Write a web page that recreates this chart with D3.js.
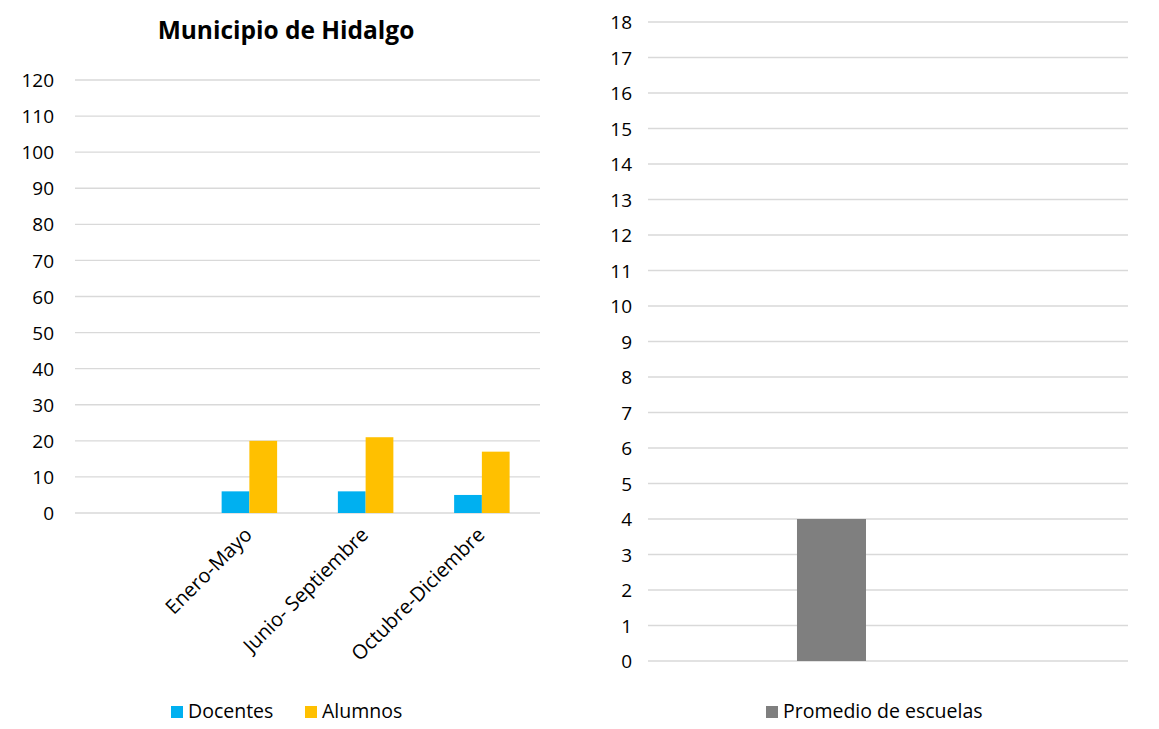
<!DOCTYPE html>
<html>
<head>
<meta charset="utf-8">
<title>Municipio de Hidalgo</title>
<script src="https://d3js.org/d3.v7.min.js"></script>
<style>
  body { margin: 0; background: #fff; }
  text { font-family: "Open Sans", "Noto Sans", sans-serif; fill: #000; }
  .grid line { stroke: #d9d9d9; stroke-width: 1.3; }
</style>
</head>
<body>
<script>
// datos - grafica izquierda (primera fila vacia en el original)
var periodos = ["", "Enero-Mayo", "Junio- Septiembre", "Octubre-Diciembre"];
var docentes = [null, 6, 6, 5];
var alumnos  = [null, 20, 21, 17];
var seriesIzq = ["Docentes", "Alumnos"];
var coloresIzq = ["#00b0f0", "#ffc000"];
var ticksIzq = d3.range(0, 121, 10);

// datos - grafica derecha
var categoriasDer = ["Promedio de escuelas"];
var promedio = [4];
var ticksDer = d3.range(0, 19, 1);

var svg = d3.select("body").append("svg")
    .attr("width", 1159)
    .attr("height", 729);

// ---------- grafica izquierda ----------
var left = {x0: 75, x1: 540, y0: 513, y1: 80};

var x = d3.scaleBand().domain(periodos).range([left.x0, left.x1]);
var x1 = d3.scaleBand().domain(seriesIzq)
    .range([0, x.bandwidth()])
    .paddingInner(0).paddingOuter(2.19 / 2);
var y = d3.scaleLinear().domain([0, 120]).range([left.y0, left.y1]);

svg.append("text")
    .attr("x", 286).attr("y", 39)
    .attr("text-anchor", "middle")
    .style("font-size", "24.5px").style("font-weight", "bold")
    .text("Municipio de Hidalgo");

svg.append("g").attr("class", "grid")
    .selectAll("line").data(ticksIzq).enter().append("line")
    .attr("x1", left.x0).attr("x2", left.x1)
    .attr("y1", function(d) { return y(d); })
    .attr("y2", function(d) { return y(d); });

var ejeY = svg.append("g")
    .attr("transform", "translate(" + (left.x0 - 21) + ",0)")
    .call(d3.axisLeft(y).tickValues(ticksIzq).tickSize(0).tickPadding(0));
ejeY.select(".domain").remove();
ejeY.selectAll("text").style("font-size", "19px").attr("dy", "0.35em");

var filas = periodos.map(function(p, i) {
    return {periodo: p, valores: [docentes[i], alumnos[i]]};
});

var grupos = svg.append("g").selectAll("g").data(filas).enter().append("g")
    .attr("transform", function(d) { return "translate(" + x(d.periodo) + ",0)"; });

grupos.selectAll("rect")
    .data(function(d) {
        return d.valores.map(function(v, j) { return {serie: seriesIzq[j], v: v, c: coloresIzq[j]}; })
            .filter(function(e) { return e.v != null; });
    })
    .enter().append("rect")
    .attr("x", function(d) { return x1(d.serie); })
    .attr("width", x1.bandwidth())
    .attr("y", function(d) { return y(d.v); })
    .attr("height", function(d) { return y(0) - y(d.v); })
    .attr("fill", function(d) { return d.c; });

var ejeX = svg.append("g")
    .attr("transform", "translate(0," + left.y0 + ")")
    .call(d3.axisBottom(x).tickSize(0).tickPadding(0));
ejeX.select(".domain").remove();
ejeX.selectAll("text")
    .style("font-size", "20px")
    .attr("text-anchor", "end")
    .attr("dy", "0.35em")
    .attr("transform", "translate(-1,18) rotate(-45)");

// leyenda izquierda
var legX = [171, 305];
var legIzq = svg.append("g").selectAll("g").data(seriesIzq).enter().append("g")
    .attr("transform", function(d, i) { return "translate(" + legX[i] + ",706)"; });
legIzq.append("rect").attr("width", 12).attr("height", 12)
    .attr("fill", function(d, i) { return coloresIzq[i]; });
legIzq.append("text").attr("x", 17).attr("y", 5).attr("dy", "0.35em")
    .style("font-size", "19.5px").text(function(d) { return d; });

// ---------- grafica derecha ----------
var right = {x0: 648, x1: 1128, y0: 661, y1: 22};

var xd = d3.scaleBand().domain(categoriasDer)
    .range([right.x0, right.x1])
    .paddingInner(0).paddingOuter(2.978).align(0.3625);
var yd = d3.scaleLinear().domain([0, 18]).range([right.y0, right.y1]);

svg.append("g").attr("class", "grid")
    .selectAll("line").data(ticksDer).enter().append("line")
    .attr("x1", right.x0).attr("x2", right.x1)
    .attr("y1", function(d) { return yd(d); })
    .attr("y2", function(d) { return yd(d); });

var ejeYd = svg.append("g")
    .attr("transform", "translate(" + (right.x0 - 16) + ",0)")
    .call(d3.axisLeft(yd).tickValues(ticksDer).tickSize(0).tickPadding(0));
ejeYd.select(".domain").remove();
ejeYd.selectAll("text").style("font-size", "19px").attr("dy", "0.35em");

svg.append("g").selectAll("rect").data(categoriasDer).enter().append("rect")
    .attr("x", function(d) { return xd(d); })
    .attr("width", xd.bandwidth())
    .attr("y", function(d, i) { return yd(promedio[i]); })
    .attr("height", function(d, i) { return yd(0) - yd(promedio[i]); })
    .attr("fill", "#7f7f7f");

var legDer = svg.append("g").attr("transform", "translate(766,706)");
legDer.append("rect").attr("width", 12).attr("height", 12).attr("fill", "#7f7f7f");
legDer.append("text").attr("x", 17).attr("y", 5).attr("dy", "0.35em")
    .style("font-size", "19.5px").text(categoriasDer[0]);
</script>
</body>
</html>
